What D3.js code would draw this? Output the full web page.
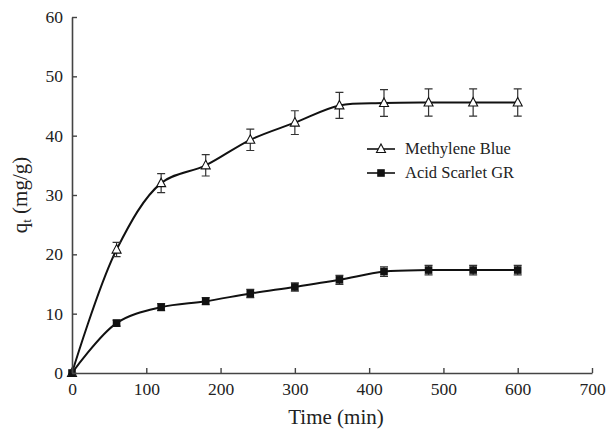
<!DOCTYPE html>
<html>
<head>
<meta charset="utf-8">
<script src="https://cdn.jsdelivr.net/npm/d3@7"></script>
<style>
  body { margin: 0; background: #fff; }
  svg { display: block; }
</style>
</head>
<body>
<svg id="chart" width="607" height="429"></svg>
<script>
// time points (min)
const times = [0, 60, 120, 180, 240, 300, 360, 420, 480, 540, 600];
// Methylene Blue uptake q_t (mg/g) and its error
const mbValues = [0, 20.8, 32.0, 35.0, 39.3, 42.2, 45.1, 45.5, 45.6, 45.6, 45.6];
const mbErr    = [0, 1.2, 1.6, 1.8, 1.8, 2.0, 2.2, 2.25, 2.3, 2.3, 2.3];
// Acid Scarlet GR uptake q_t (mg/g) and its error
const asValues = [0, 8.4, 11.1, 12.1, 13.4, 14.5, 15.7, 17.1, 17.35, 17.35, 17.35];
const asErr    = [0, 0.5, 0.6, 0.6, 0.7, 0.7, 0.75, 0.8, 0.8, 0.8, 0.8];
const xTicks = [0, 100, 200, 300, 400, 500, 600, 700];
const yTicks = [0, 10, 20, 30, 40, 50, 60];
const seriesNames = ['Methylene Blue', 'Acid Scarlet GR'];

const FONT = '"Liberation Serif"';
const INK = '#222';
const svg = d3.select('#chart').style('font-family', FONT);
const x = d3.scaleLinear().domain([0, 700]).range([72, 592]);
const y = d3.scaleLinear().domain([0, 60]).range([373, 17]);
const AXIS = '#444';

const line = d3.line().x(d => x(d[0])).y(d => y(d[1])).curve(d3.curveCatmullRom.alpha(0.5));

function drawMarkers(g, xy, shape) {
  xy.forEach(([cx, cy]) => {
    if (shape === 'tri') {
      g.append('path').attr('d', `M${cx},${cy - 5}L${cx + 4.5},${cy + 3.5}L${cx - 4.5},${cy + 3.5}Z`)
        .attr('fill', '#fff').attr('stroke', '#111').attr('stroke-width', 1.1);
    } else {
      g.append('rect').attr('x', cx - 3.8).attr('y', cy - 3.8).attr('width', 7.6).attr('height', 7.6)
        .attr('fill', '#111');
    }
  });
}

function drawSeries(vals, errs, shape) {
  const pts = times.map((t, i) => [t, vals[i], errs[i]]);
  svg.append('path').attr('d', line(pts)).attr('fill', 'none')
    .attr('stroke', '#111').attr('stroke-width', 2);
  const g = svg.append('g');
  pts.forEach(p => {
    if (p[2] > 0) {
      const cx = x(p[0]), t = y(p[1] + p[2]), b = y(p[1] - p[2]);
      g.append('path').attr('d', `M${cx},${t}V${b}M${cx - 4},${t}H${cx + 4}M${cx - 4},${b}H${cx + 4}`)
        .attr('stroke', '#333').attr('stroke-width', 1.2).attr('fill', 'none');
    }
  });
  drawMarkers(g, pts.map(p => [x(p[0]), y(p[1])]), shape);
}

drawSeries(mbValues, mbErr, 'tri');
drawSeries(asValues, asErr, 'sq');

// axes, ticks pointing inward
const gx = svg.append('g').attr('transform', `translate(0,${y(0)})`)
  .call(d3.axisBottom(x).tickValues(xTicks).tickSizeInner(-5).tickSizeOuter(0).tickPadding(10));
const gy = svg.append('g').attr('transform', `translate(${x(0)},0)`)
  .call(d3.axisLeft(y).tickValues(yTicks).tickSizeInner(-5).tickSizeOuter(0).tickPadding(9));
[gx, gy].forEach(g => {
  g.attr('font-family', null).attr('font-size', null);
  g.select('.domain').attr('stroke', AXIS).attr('stroke-width', 1.6);
  g.selectAll('.tick line').attr('stroke', AXIS).attr('stroke-width', 1.4);
  g.selectAll('.tick text').attr('fill', INK)
    .attr('font-size', 17.5).style('font-family', FONT);
});

svg.append('text').attr('x', 336).attr('y', 424).attr('text-anchor', 'middle')
  .attr('font-size', 21).style('font-family', FONT).attr('fill', INK).text('Time (min)');
const yl = svg.append('text').attr('transform', 'translate(27,195) rotate(-90)')
  .attr('text-anchor', 'middle').attr('font-size', 21).style('font-family', FONT).attr('fill', INK);
yl.append('tspan').text('q');
yl.append('tspan').attr('dy', 4).attr('font-size', 13).text('t');
yl.append('tspan').attr('dy', -4).text(' (mg/g)');

// legend
const lg = svg.append('g');
seriesNames.forEach((name, i) => {
  const ly = 149 + i * 24;
  lg.append('line').attr('x1', 367).attr('x2', 395).attr('y1', ly).attr('y2', ly)
    .attr('stroke', '#111').attr('stroke-width', 1.6);
  drawMarkers(lg, [[381, ly]], i === 0 ? 'tri' : 'sq');
  lg.append('text').attr('x', 405).attr('y', ly + 5).attr('font-size', 16.5)
    .style('font-family', FONT).attr('fill', INK).text(name);
});
</script>
</body>
</html>
